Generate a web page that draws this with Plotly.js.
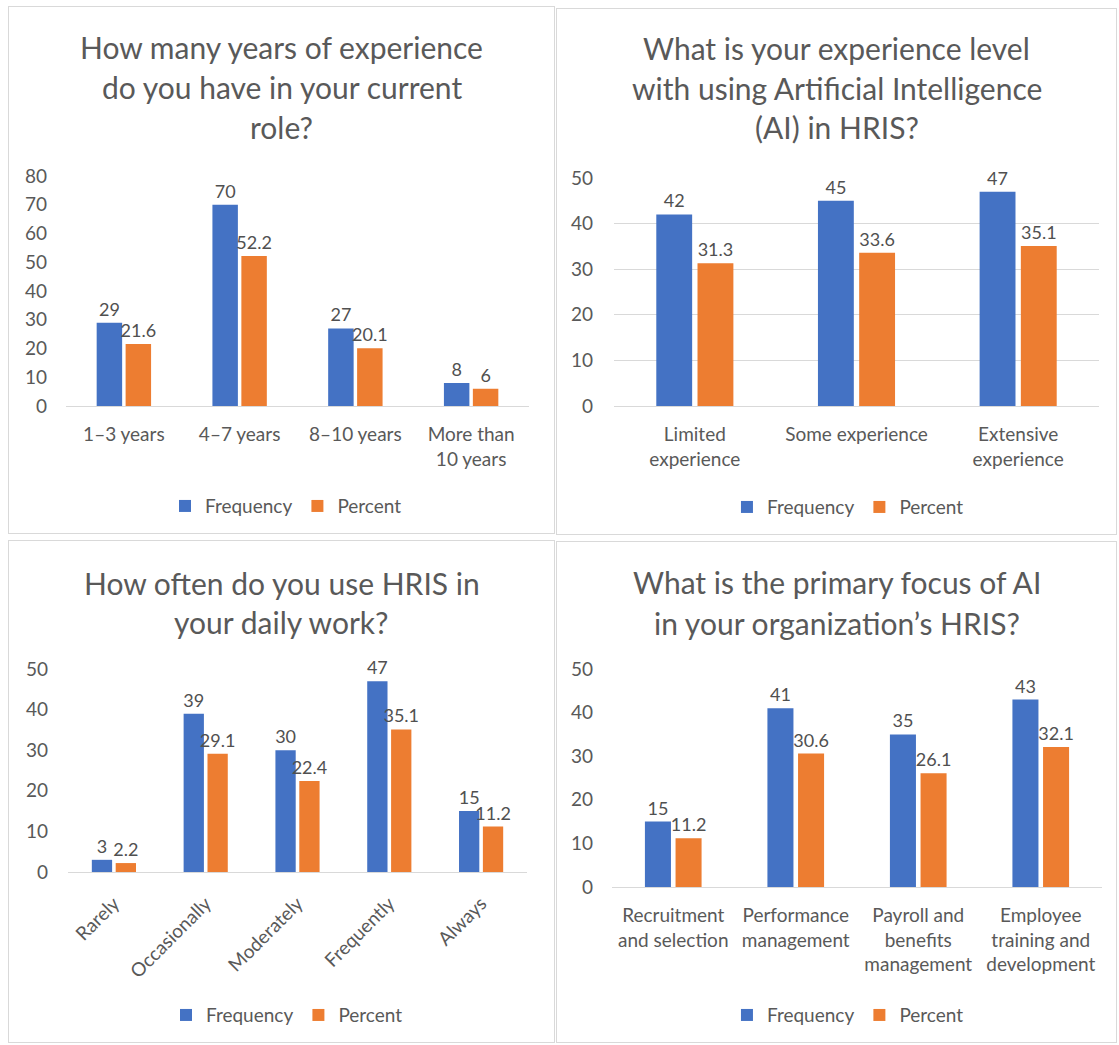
<!DOCTYPE html>
<html>
<head>
<meta charset="utf-8">
<script src="https://cdn.plot.ly/plotly-3.0.1.min.js"></script>
<style>
  html, body { margin:0; padding:0; background:#ffffff; }
  body { width:1119px; height:1045px; position:relative; overflow:hidden; }
  .panel { position:absolute; border:1px solid #d9d9d9; box-sizing:border-box; background:#fff; }
</style>
</head>
<body>
<div id="p1" class="panel"></div>
<div id="p2" class="panel"></div>
<div id="p3" class="panel"></div>
<div id="p4" class="panel"></div>
<script>
// ---------- DATA ----------
const yearsCategories = ['1–3 years', '4–7 years', '8–10 years', 'More than<br>10 years'];
const yearsFrequency  = [29, 70, 27, 8];
const yearsPercent    = [21.6, 52.2, 20.1, 6];

const aiLevelCategories = ['Limited<br>experience', 'Some experience', 'Extensive<br>experience'];
const aiLevelFrequency  = [42, 45, 47];
const aiLevelPercent    = [31.3, 33.6, 35.1];

const hrisUseCategories = ['Rarely', 'Occasionally', 'Moderately', 'Frequently', 'Always'];
const hrisUseFrequency  = [3, 39, 30, 47, 15];
const hrisUsePercent    = [2.2, 29.1, 22.4, 35.1, 11.2];

const aiFocusCategories = ['Recruitment<br>and selection', 'Performance<br>management', 'Payroll and<br>benefits<br>management', 'Employee<br>training and<br>development'];
const aiFocusFrequency  = [15, 41, 35, 43];
const aiFocusPercent    = [11.2, 30.6, 26.1, 32.1];

const seriesNames = ['Frequency', 'Percent'];

const titles1 = ['How many years of experience', 'do you have in your current', 'role?'];
const titles2 = ['What is your experience level', 'with using Artificial Intelligence', '(AI) in HRIS?'];
const titles3 = ['How often do you use HRIS in', 'your daily work?'];
const titles4 = ['What is the primary focus of AI', 'in your organization’s HRIS?'];

// ---------- STYLE ----------
const BLUE = '#4472c4', ORANGE = '#ed7d31', TXT = '#595959';
const FONT = 'Lato, Carlito, Calibri, sans-serif';

function build(id, box, cats, freq, pct, titleLines, opts) {
  const el = document.getElementById(id);
  el.style.left = box.left + 'px'; el.style.top = box.top + 'px';
  el.style.width = box.W + 'px'; el.style.height = box.H + 'px';
  const W = box.W, H = box.H, m = box.m;
  const ph = H - m.t - m.b, pw = W - m.l - m.r;
  const py = y => (H - m.b - y) / ph;
  const px = x => (x - m.l) / pw;

  const mk = (vals, name, color) => ({
    type: 'bar', x: cats, y: vals, name: name,
    marker: { color: color },
    text: vals.map(v => String(v)), textposition: 'outside', constraintext: 'none',
    textfont: { family: FONT, size: 18, color: '#505050' },
    cliponaxis: false, hoverinfo: 'skip'
  });
  const data = [mk(freq, seriesNames[0], BLUE), mk(pct, seriesNames[1], ORANGE)];

  const annotations = titleLines.map((t, i) => ({
    text: t, xref: 'paper', yref: 'paper', x: px(W / 2), y: py(box.titleY[i]),
    xanchor: 'center', yanchor: 'middle', showarrow: false,
    font: { family: FONT, size: 30, color: TXT }
  }));

  const layout = {
    width: W - 2, height: H - 2,
    margin: { l: m.l, r: m.r, t: m.t, b: m.b, pad: 0 },
    paper_bgcolor: '#ffffff', plot_bgcolor: '#ffffff',
    barmode: 'group', bargap: opts.bargap, bargroupgap: opts.groupgap,
    font: { family: FONT, color: TXT },
    showlegend: true,
    legend: {
      orientation: 'h', xref: 'container', yref: 'container',
      x: box.legX / W, y: 1 - box.legY / H, xanchor: 'center', yanchor: 'middle',
      font: { family: FONT, size: 19, color: TXT }, itemwidth: 30
    },
    xaxis: {
      type: 'category', showline: true, linecolor: '#d9d9d9', linewidth: 1,
      ticks: '', showgrid: false, zeroline: false, fixedrange: true,
      tickfont: { family: FONT, size: 19, color: TXT },
      tickangle: opts.tickangle, ticklabelstandoff: opts.xstand
    },
    yaxis: {
      range: [0, opts.ymax], dtick: 10, tick0: 0, showline: false, ticks: '',
      showgrid: opts.grid, gridcolor: '#d9d9d9', gridwidth: 1, zeroline: false,
      fixedrange: true, tickfont: { family: FONT, size: 19, color: TXT },
      ticklabelstandoff: opts.ystand
    },
    annotations: annotations
  };
  Plotly.newPlot(el, data, layout, { displayModeBar: false, staticPlot: true });
}

build('p1', { left: 8, top: 6, W: 547, H: 528, m: { l: 57, r: 25, t: 169, b: 127 },
  titleY: [39, 79, 120], legX: 278, legY: 501 },
  yearsCategories, yearsFrequency, yearsPercent, titles1,
  { bargap: 0.5, groupgap: 0.12, ymax: 80, grid: false, tickangle: 0, xstand: 11, ystand: 18 });

build('p2', { left: 556, top: 8, W: 561, H: 527, m: { l: 57, r: 17, t: 169, b: 128 },
  titleY: [38, 78, 118], legX: 292, legY: 500 },
  aiLevelCategories, aiLevelFrequency, aiLevelPercent, titles2,
  { bargap: 0.49, groupgap: 0.13, ymax: 50, grid: true, tickangle: 0, xstand: 11, ystand: 20 });

build('p3', { left: 8, top: 540, W: 547, H: 503, m: { l: 59, r: 27, t: 128, b: 170 },
  titleY: [41, 81], legX: 279, legY: 476 },
  hrisUseCategories, hrisUseFrequency, hrisUsePercent, titles3,
  { bargap: 0.48, groupgap: 0.15, ymax: 50, grid: false, tickangle: -45, xstand: 12, ystand: 19 });

build('p4', { left: 556, top: 541, W: 561, H: 502, m: { l: 55, r: 14, t: 127, b: 155 },
  titleY: [39, 81], legX: 292, legY: 475 },
  aiFocusCategories, aiFocusFrequency, aiFocusPercent, titles4,
  { bargap: 0.5, groupgap: 0.15, ymax: 50, grid: false, tickangle: 0, xstand: 11, ystand: 18 });
</script>
</body>
</html>
